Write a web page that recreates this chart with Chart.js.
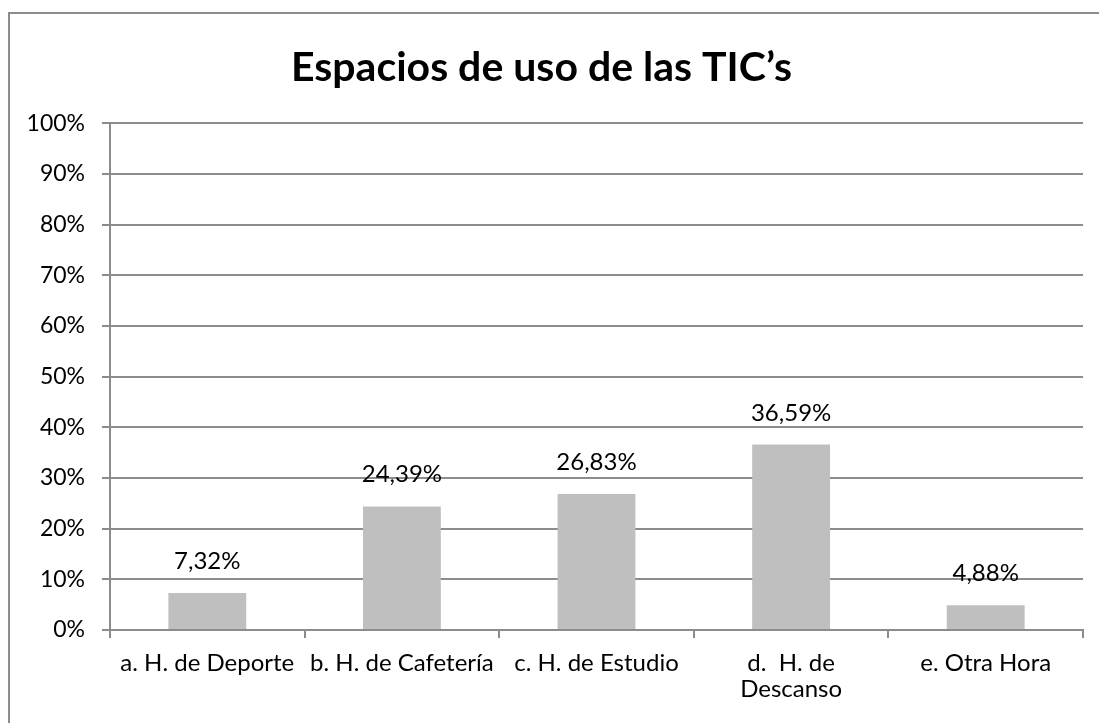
<!DOCTYPE html>
<html>
<head>
<meta charset="utf-8">
<script src="https://cdn.jsdelivr.net/npm/chart.js@4/dist/chart.umd.min.js"></script>
<style>
  html, body { margin: 0; padding: 0; background: #fff; overflow: hidden; }
</style>
</head>
<body>
<canvas id="chart" width="1099" height="723"></canvas>
<script>
// datos del gráfico
const titulo = 'Espacios de uso de las TIC’s';
const categorias = [
  'a. H. de Deporte',
  'b. H. de Cafetería',
  'c. H. de Estudio',
  ['d.  H. de', 'Descanso'],
  'e. Otra Hora'
];
const porcentajes = [7.32, 24.39, 26.83, 36.59, 4.88];
const ticksY = [0, 10, 20, 30, 40, 50, 60, 70, 80, 90, 100];

const fuente = 'Lato';
const gris = '#8c8c8c';

// marco exterior: sólo borde superior e izquierdo, el resto queda fuera
const marco = {
  id: 'marco',
  beforeDraw(chart) {
    const c = chart.ctx;
    c.save();
    c.strokeStyle = gris;
    c.lineWidth = 2;
    c.beginPath();
    c.moveTo(9, 800);
    c.lineTo(9, 13);
    c.lineTo(1200, 13);
    c.stroke();
    c.restore();
  }
};

// etiquetas de valor encima de cada barra
const etiquetasBarras = {
  id: 'etiquetasBarras',
  afterDatasetsDraw(chart) {
    const c = chart.ctx;
    const meta = chart.getDatasetMeta(0);
    c.save();
    c.font = '24px ' + fuente;
    c.fillStyle = '#000';
    c.textAlign = 'center';
    c.textBaseline = 'alphabetic';
    meta.data.forEach((bar, i) => {
      const txt = porcentajes[i].toFixed(2).replace('.', ',') + '%';
      c.fillText(txt, bar.x, bar.y - 24);
    });
    c.restore();
  }
};

const ctx = document.getElementById('chart').getContext('2d');
new Chart(ctx, {
  type: 'bar',
  data: {
    labels: categorias,
    datasets: [{
      data: porcentajes,
      backgroundColor: '#bfbfbf',
      borderWidth: 0,
      barPercentage: 0.4,
      categoryPercentage: 1
    }]
  },
  options: {
    responsive: false,
    animation: false,
    layout: { padding: { left: 0, right: 16, top: 0, bottom: 0 } },
    plugins: {
      legend: { display: false },
      tooltip: { enabled: false },
      title: {
        display: true,
        text: titulo,
        color: '#000',
        font: { family: fuente, size: 41, weight: 'bold' },
        padding: { top: 43, bottom: 31 }
      }
    },
    scales: {
      x: {
        grid: {
          offset: true,
          drawOnChartArea: false,
          drawTicks: true,
          tickLength: 8,
          tickColor: gris,
          lineWidth: 2
        },
        border: { color: gris, width: 2 },
        ticks: {
          color: '#000',
          font: { family: fuente, size: 24, lineHeight: 1.05 },
          padding: 13,
          maxRotation: 0,
          autoSkip: false
        },
        afterFit(scale) { scale.height = 93; }
      },
      y: {
        min: 0,
        max: 100,
        afterBuildTicks(scale) { scale.ticks = ticksY.map(v => ({ value: v })); },
        grid: {
          color: gris,
          lineWidth: 2,
          drawTicks: true,
          tickLength: 8,
          tickColor: gris
        },
        border: { color: gris, width: 2 },
        ticks: {
          color: '#000',
          font: { family: fuente, size: 23 },
          padding: 17,
          callback: v => v + '%'
        },
        afterFit(scale) { scale.width = 110; }
      }
    }
  },
  plugins: [marco, etiquetasBarras]
});
</script>
</body>
</html>
